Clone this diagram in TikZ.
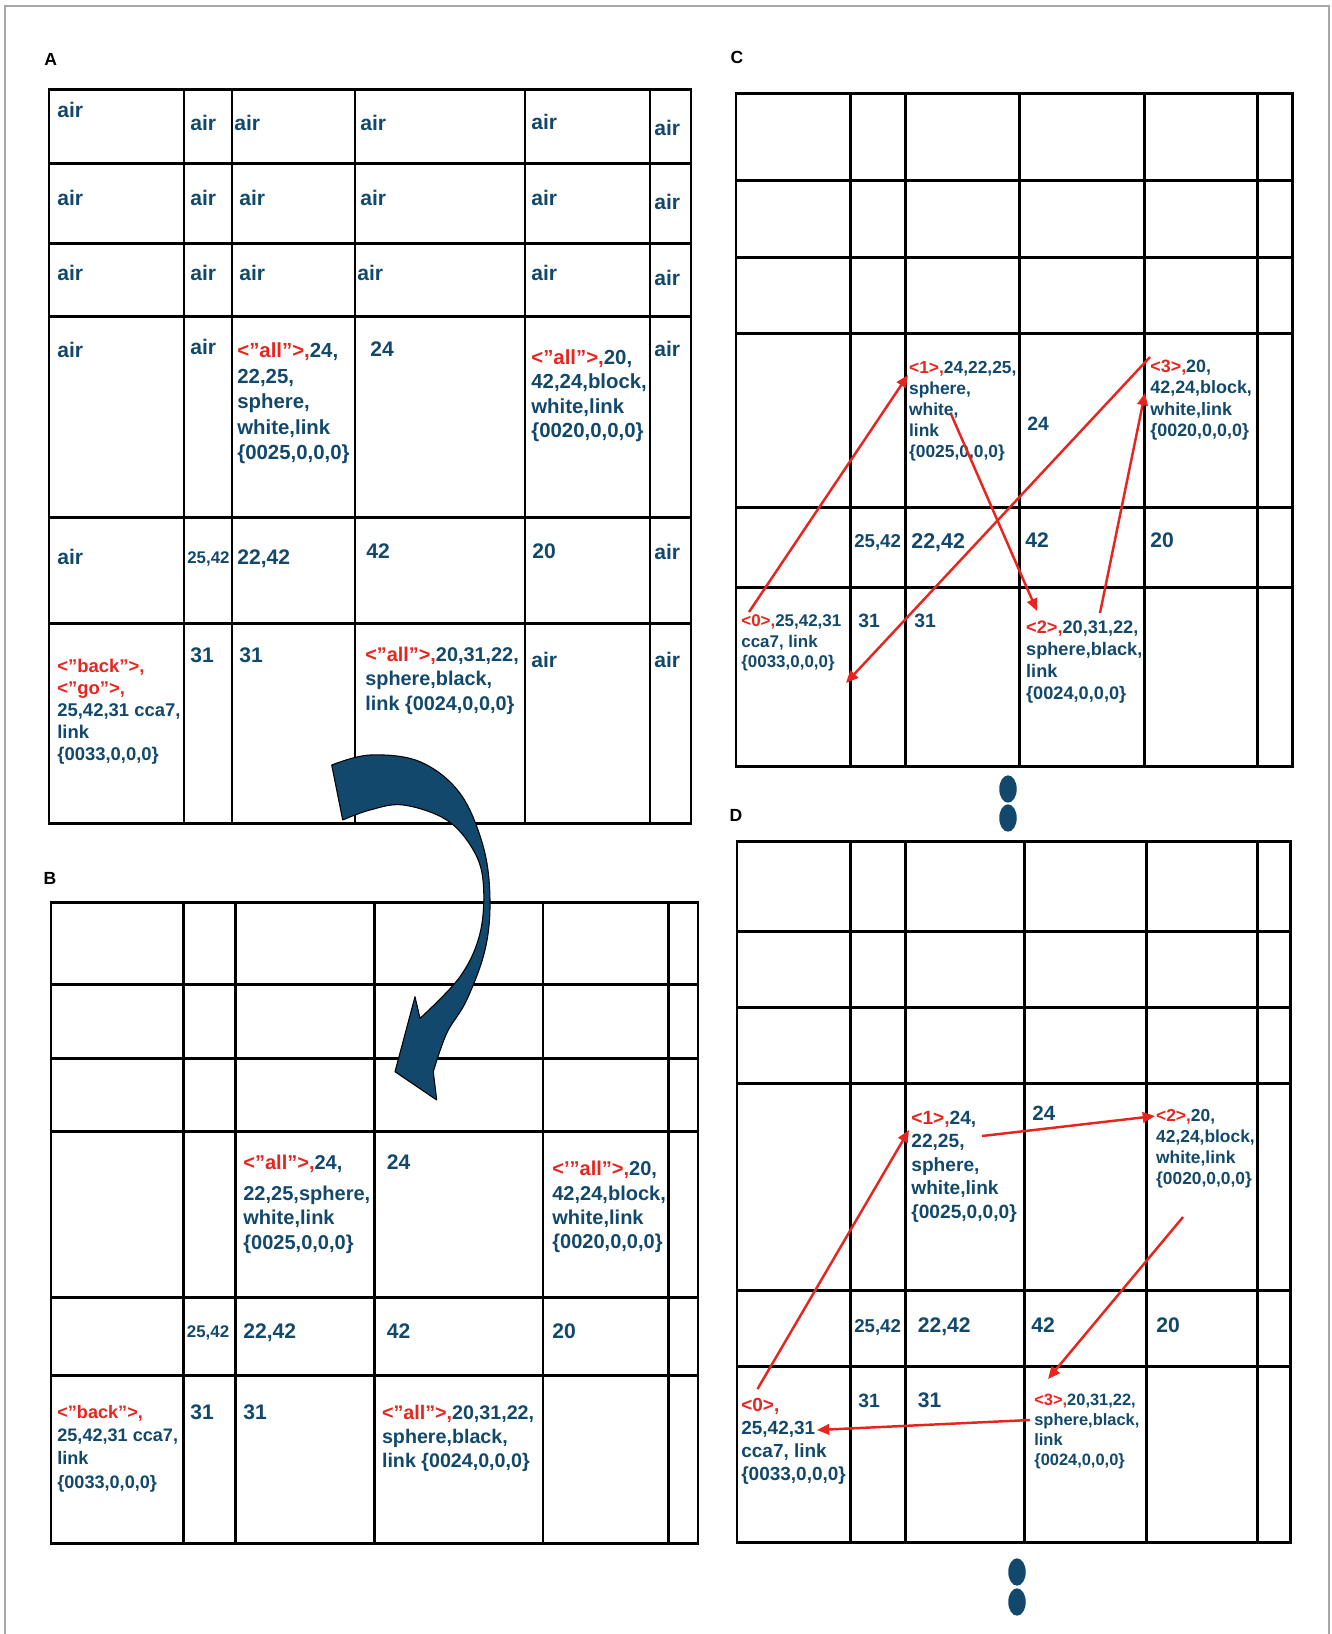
\documentclass[tikz,border=0pt]{standalone}
\usepackage{fontspec}
\setmainfont{Liberation Sans}
\usetikzlibrary{arrows.meta}
\definecolor{tblue}{RGB}{17,72,108}
\definecolor{tred}{RGB}{232,36,30}
\newcommand\rd[1]{\textcolor{tred}{#1}}
\newcommand\fl{\rule{0pt}{0.8em}}
\begin{document}
\begin{tikzpicture}[x=0.02cm,y=-0.02cm,
  cell/.style={anchor=north west, inner sep=0pt, align=left, text=tblue},
  fs/.style 2 args={font=\bfseries\fontsize{#1}{#2}\selectfont},
  f12/.style={fs={12}{14.4}},
  grid/.style={line width=1.7pt, black, line cap=rect},
  lab/.style={font=\bfseries\fontsize{10}{12}\selectfont, text=black, inner sep=0pt},
  redarrow/.style={draw=tred, line width=1.4pt, -{Triangle[length=7pt,width=6pt]}},
  dotfill/.style={fill=tblue, draw=none}]
\useasboundingbox (0,0) rectangle (1332,1634);
\draw[gray!70, line width=1.1pt] (5,1640) -- (5,6) -- (1329,6) -- (1329,1640);

% panel labels
\node[lab] (labA) at (50.7,59.7) {A};
\node[lab] (labB) at (50,878.3) {B};
\node[lab] (labC) at (737,57.3) {C};
\node[lab] (labD) at (736,815) {D};

% ---------- grids ----------
\foreach \x in {49,184,232,355,525,650,691} \draw[grid] (\x,89) -- (\x,823);
\foreach \y in {89,163,243,316,517,623,823} \draw[grid] (49,\y) -- (691,\y);
\foreach \x in {51,183.5,235.6,374.1,543,668.5,698} \draw[grid] (\x,902) -- (\x,1543);
\foreach \y in {902,984,1058,1131,1297,1375.5,1543} \draw[grid] (51,\y) -- (698,\y);
\foreach \x in {736,850,905,1019.5,1144.5,1257.5,1292.5} \draw[grid] (\x,93) -- (\x,766);
\foreach \y in {93,180,257.5,333.5,507.7,587.6,766} \draw[grid] (736,\y) -- (1292.5,\y);
\foreach \x in {737,850,905,1024,1146,1257.5,1290} \draw[grid] (\x,841.5) -- (\x,1542.5);
\foreach \y in {841.5,931,1007.6,1083,1290,1366.6,1542.5} \draw[grid] (737,\y) -- (1290,\y);

% ---------- panel A ----------
\node[cell,f12] (a11) at (57,100.7) {\fl air};
\node[cell,f12] (a12) at (190,113.7) {\fl air};
\node[cell,f12] (a13) at (234,113.7) {\fl air};
\node[cell,f12] (a14) at (360,113.7) {\fl air};
\node[cell,f12] (a15) at (531,112.7) {\fl air};
\node[cell,f12] (a16) at (654,118.7) {\fl air};
\node[cell,f12] (a21) at (57,188.7) {\fl air};
\node[cell,f12] (a22) at (190,188.7) {\fl air};
\node[cell,f12] (a23) at (239,188.7) {\fl air};
\node[cell,f12] (a24) at (360,188.7) {\fl air};
\node[cell,f12] (a25) at (531,188.7) {\fl air};
\node[cell,f12] (a26) at (654,192.7) {\fl air};
\node[cell,f12] (a31) at (57,263.7) {\fl air};
\node[cell,f12] (a32) at (190,263.7) {\fl air};
\node[cell,f12] (a33) at (239,263.7) {\fl air};
\node[cell,f12] (a34) at (357,263.7) {\fl air};
\node[cell,f12] (a35) at (531,263.7) {\fl air};
\node[cell,f12] (a36) at (654,268.7) {\fl air};
\node[cell,f12] (a41) at (57,340.7) {\fl air};
\node[cell,f12] (a42) at (190,337.7) {\fl air};
\node[cell,fs={11.6}{14.5}] (a43) at (237,341) {\fl\rd{<”all”>,}24,\\22,25,\\sphere,\\white,link\\\{0025,0,0,0\}};
\node[cell,f12] (a44) at (370,339.7) {\fl 24};
\node[cell,fs={11.6}{13.8}] (a45) at (531,348) {\fl\rd{<”all”>,}20,\\42,24,block,\\white,link\\\{0020,0,0,0\}};
\node[cell,f12] (a46) at (654,339.7) {\fl air};
\node[cell,f12] (a51) at (57,547.7) {\fl air};
\node[cell,fs={9.6}{11.5}] (a52) at (187,549.5) {\fl 25,42};
\node[cell,f12] (a53) at (237,547.7) {\fl 22,42};
\node[cell,f12] (a54) at (366,541.7) {\fl 42};
\node[cell,f12] (a55) at (532,541.7) {\fl 20};
\node[cell,f12] (a56) at (654,542.7) {\fl air};
\node[cell,fs={10.5}{12.6}] (a61) at (57,656.9) {\fl\rd{<”back”>,}\\\rd{<”go”>,}\\25,42,31 cca7,\\link\\\{0033,0,0,0\}};
\node[cell,f12] (a62) at (190,645.7) {\fl 31};
\node[cell,f12] (a63) at (239,645.7) {\fl 31};
\node[cell,fs={11.3}{13.9}] (a64) at (365,645) {\fl\rd{<”all”>,}20,31,22,\\sphere,black,\\link \{0024,0,0,0\}};
\node[cell,f12] (a65) at (531,650.7) {\fl air};
\node[cell,f12] (a66) at (654,650.7) {\fl air};

% ---------- panel B ----------
\node[cell,fs={11.4}{14}] (b43) at (243,1152.9) {\fl\rd{<”all”>,}24,\\[3.6pt]22,25,sphere,\\white,link\\\{0025,0,0,0\}};
\node[cell,f12] (b44) at (386.6,1152.4) {\fl 24};
\node[cell,fs={11.4}{13.9}] (b45) at (552,1159.2) {\fl\rd{<’”all”>,}20,\\42,24,block,\\white,link\\\{0020,0,0,0\}};
\node[cell,fs={9.6}{11.5}] (b52) at (186.6,1323.2) {\fl 25,42};
\node[cell,f12] (b53) at (243,1321.7) {\fl 22,42};
\node[cell,f12] (b54) at (386.6,1321.7) {\fl 42};
\node[cell,f12] (b55) at (552,1321.7) {\fl 20};
\node[cell,fs={10.3}{13.2}] (b61) at (57,1403.7) {\fl\rd{<”back”>,}\\25,42,31 cca7,\\link\\\{0033,0,0,0\}};
\node[cell,f12] (b62) at (190,1402.4) {\fl 31};
\node[cell,f12] (b63) at (243,1402.4) {\fl 31};
\node[cell,fs={11.2}{13.6}] (b64) at (381.7,1403.3) {\fl\rd{<”all”>,}20,31,22,\\sphere,black,\\link \{0024,0,0,0\}};

% ---------- panel C ----------
\node[cell,fs={9.9}{12}] (c43) at (908.75,359) {\fl\rd{<1>,}24,22,25,\\sphere,\\white,\\link\\\{0025,0,0,0\}};
\node[cell,fs={11}{13}] (c44) at (1027,414.2) {\fl 24};
\node[cell,fs={10.2}{12.1}] (c45) at (1150,357.8) {\fl\rd{<3>,}20,\\42,24,block,\\white,link\\\{0020,0,0,0\}};
\node[cell,fs={10.6}{12.7}] (c52) at (854,531.8) {\fl 25,42};
\node[cell,fs={12.2}{14.6}] (c53) at (911,530.5) {\fl 22,42};
\node[cell,f12] (c54) at (1025,530.7) {\fl 42};
\node[cell,f12] (c55) at (1150,530.7) {\fl 20};
\node[cell,fs={9.65}{11.8}] (c61) at (741,612.5) {\fl\rd{<0>,}25,42,31\\cca7, link\\\{0033,0,0,0\}};
\node[cell,fs={11}{13}] (c62) at (858,611.5) {\fl 31};
\node[cell,fs={11}{13}] (c63) at (914,611.5) {\fl 31};
\node[cell,fs={10.35}{12.5}] (c64) at (1025.8,618.7) {\fl\rd{<2>,}20,31,22,\\sphere,black,\\link\\\{0024,0,0,0\}};

% ---------- panel D ----------
\node[cell,fs={10.9}{13.3}] (d43) at (911,1108.9) {\fl\rd{<1>,}24,\\22,25,\\sphere,\\white,link\\\{0025,0,0,0\}};
\node[cell,fs={11.7}{14}] (d44) at (1032,1103.6) {\fl 24};
\node[cell,fs={9.9}{12}] (d45) at (1155.8,1107.3) {\fl\rd{<2>,}20,\\42,24,block,\\white,link\\\{0020,0,0,0\}};
\node[cell,fs={10.6}{12.7}] (d52) at (854,1316.8) {\fl 25,42};
\node[cell,f12] (d53) at (917.5,1315.7) {\fl 22,42};
\node[cell,f12] (d54) at (1031,1315.7) {\fl 42};
\node[cell,f12] (d55) at (1156,1315.7) {\fl 20};
\node[cell,fs={10.8}{13.2}] (d61) at (741,1395.6) {\fl\rd{<0>,}\\25,42,31\\cca7, link\\\{0033,0,0,0\}};
\node[cell,fs={11}{13}] (d62) at (858,1391.5) {\fl 31};
\node[cell,f12] (d63) at (917.5,1390.7) {\fl 31};
\node[cell,fs={9.35}{11.3}] (d64) at (1034,1392) {\fl\rd{<3>,}20,31,22,\\sphere,black,\\link\\\{0024,0,0,0\}};

% ---------- red arrows C ----------
\coordinate (cAs) at (749,612);  \coordinate (cAe) at (908,375);
\coordinate (cBs) at (951,414);  \coordinate (cBe) at (1037,611);
\coordinate (cCs) at (1100,613); \coordinate (cCe) at (1145,393);
\coordinate (cDs) at (1150,357); \coordinate (cDe) at (846,683);
\draw[redarrow] (cAs) -- (cAe);
\draw[redarrow] (cBs) -- (cBe);
\draw[redarrow] (cCs) -- (cCe);
\draw[redarrow] (cDs) -- (cDe);

% ---------- red arrows D ----------
\coordinate (dAs) at (757.5,1389); \coordinate (dAe) at (909,1130);
\coordinate (dBs) at (982,1136);   \coordinate (dBe) at (1155,1116);
\coordinate (dCs) at (1183,1217);  \coordinate (dCe) at (1048,1379);
\coordinate (dDs) at (1030,1420);  \coordinate (dDe) at (817,1430);
\draw[redarrow] (dAs) -- (dAe);
\draw[redarrow] (dBs) -- (dBe);
\draw[redarrow] (dCs) -- (dCe);
\draw[redarrow] (dDs) -- (dDe);

% ---------- dots ----------
\fill[dotfill] (1008,789) ellipse [x radius=0.175cm, y radius=0.274cm];
\fill[dotfill] (1008,818) ellipse [x radius=0.175cm, y radius=0.274cm];
\fill[dotfill] (1017,1572) ellipse [x radius=0.175cm, y radius=0.274cm];
\fill[dotfill] (1017,1602) ellipse [x radius=0.175cm, y radius=0.274cm];

% ---------- big curved arrow ----------
\filldraw[fill=tblue, draw=black, line width=0.6pt, line join=round]
  (331.7,765) -- plot[smooth, tension=0.6] coordinates {(331.7,765) (370,755) (420,761.7) (460,793.3) (483.3,846.7) (490,900) (485,950) (466.7,1000) (446.7,1033.3) (433.3,1071.7)}
  -- (436.7,1100) -- (395,1071.7) -- (415,996.7) -- (420,1018.3)
  -- plot[smooth, tension=0.6] coordinates {(420,1018.3) (460,976.7) (480,933.3) (483.3,883.3) (473.3,850) (446.7,820) (403.3,805) (370,810) (342.7,820)}
  -- cycle;
\end{tikzpicture}
\end{document}
